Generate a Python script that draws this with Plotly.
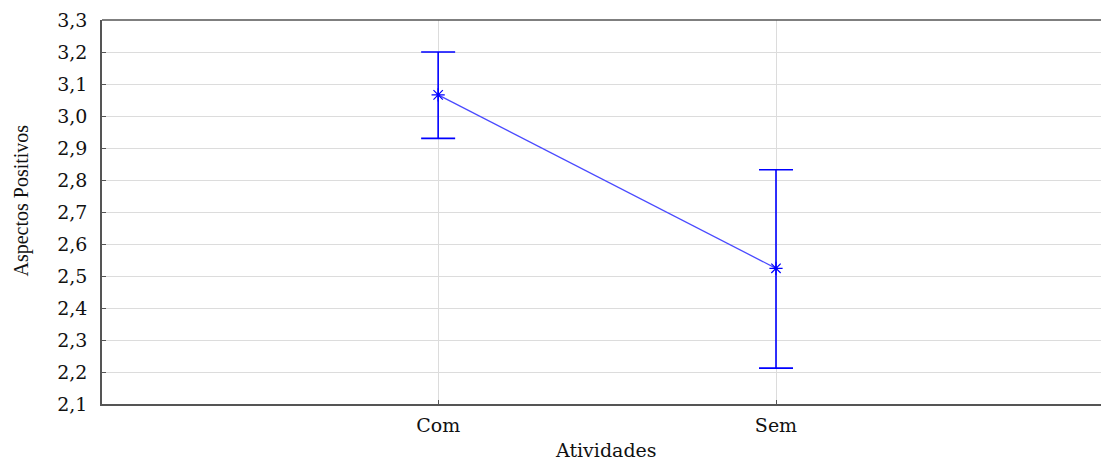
import plotly.graph_objects as go

categories = ["Com", "Sem"]
means = [3.066, 2.524]
err_plus = [0.134, 0.308]
err_minus = [0.136, 0.312]
y_ticks = [2.1, 2.2, 2.3, 2.4, 2.5, 2.6, 2.7, 2.8, 2.9, 3.0, 3.1, 3.2, 3.3]
y_ticktext = ["2,1", "2,2", "2,3", "2,4", "2,5", "2,6", "2,7", "2,8", "2,9", "3,0", "3,1", "3,2", "3,3"]

tick_font = dict(family="DejaVu Serif", size=19, color="#111111")

fig = go.Figure()

fig.add_trace(go.Scatter(
    x=categories, y=means, mode="lines+markers",
    line=dict(color="#4a4aff", width=1.3),
    marker=dict(symbol="asterisk-open", size=11, color="#0000ff", line=dict(color="#0000ff", width=1.2)),
    error_y=dict(type="data", symmetric=False, array=err_plus, arrayminus=err_minus,
                 color="#0000ff", thickness=1.6, width=17),
    showlegend=False,
))

fig.update_layout(
    width=1101, height=462,
    margin=dict(l=102, r=0, t=20, b=58),
    plot_bgcolor="white", paper_bgcolor="white",
    shapes=[dict(type="line", xref="paper", yref="paper", x0=0, x1=1, y0=1, y1=1,
                 line=dict(color="#555555", width=1.5))],
    annotations=[
        dict(text="Atividades", xref="paper", yref="paper", x=0.5045, y=-0.119,
             xanchor="center", yanchor="middle", showarrow=False,
             font=dict(family="DejaVu Serif", size=19, color="#111111")),
        dict(text="Aspectos Positivos", xref="paper", yref="paper", x=-0.081, y=0.53,
             xanchor="center", yanchor="middle", textangle=-90, showarrow=False,
             font=dict(family="Liberation Serif", size=20, color="#111111")),
    ],
)

fig.update_xaxes(
    type="category", range=[-0.995, 1.962], automargin=False,
    showline=True, linecolor="#555555", linewidth=1.5,
    showgrid=True, gridcolor="#dcdcdc", gridwidth=1,
    ticks="inside", ticklen=4, tickcolor="#555555",
    tickfont=tick_font, ticklabelstandoff=3,
)

fig.update_yaxes(
    range=[2.1, 3.3], tickvals=y_ticks, ticktext=y_ticktext, automargin=False,
    showline=True, linecolor="#555555", linewidth=1.5,
    showgrid=True, gridcolor="#dcdcdc", gridwidth=1, zeroline=False,
    ticks="inside", ticklen=4, tickcolor="#555555",
    tickfont=tick_font, ticklabelstandoff=9,
)

# page body has a default 8px margin; drop it so the figure sits at the window's corner
fig.write_html("out.html", config={"displayModeBar": False},
               post_script="document.body.style.margin = '0'; document.body.style.overflow = 'hidden';")
